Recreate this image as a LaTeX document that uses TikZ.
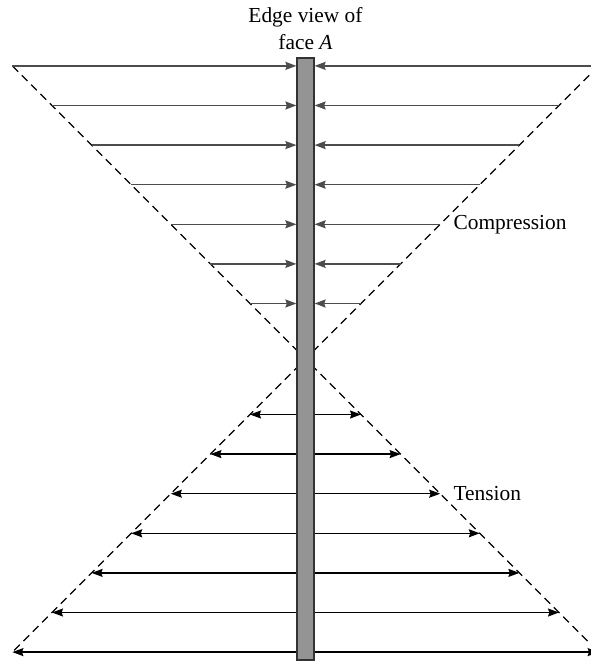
\documentclass[tikz,border=0pt]{standalone}
\usepackage{fontspec}
\setmainfont{Liberation Serif}
\usetikzlibrary{arrows.meta,positioning}
\tikzset{
  tip/.style={-{Stealth[length=5.5pt,width=4pt,inset=0.7pt]}},
  comp/.style={tip, draw=black!70, line width=0.75pt},
  tens/.style={tip, draw=black, line width=0.7pt},
  guide/.style={draw=black, line width=0.6pt, dash pattern=on 4pt off 2.6pt},
  bar/.style={draw=black!80, fill=black!42!white, line width=0.6pt, rectangle, inner sep=0pt}
}
\begin{document}
\begin{tikzpicture}[x=0.5pt,y=-0.5pt,font=\fontsize{10.7}{13.5}\selectfont]
\useasboundingbox (0,0) rectangle (590,662);

\coordinate (tl) at (12.5,66);
\coordinate (tr) at (598.5,66);
\coordinate (bl) at (12.5,652);
\coordinate (br) at (598.5,652);

\draw[guide] (tl) -- (br);
\draw[guide] (tr) -- (bl);

\node[bar, minimum width=8.5pt, minimum height=301pt] (face) at (305.5,359) {};

\node[align=center, above=0.5pt of face] (title) {Edge view of\\face \textit{A}};

\foreach \k in {0,...,6} {
  \pgfmathsetmacro{\d}{55.5+39.6*\k}
  \coordinate (cl\k) at (305.5-\d,359-\d);
  \coordinate (cr\k) at (305.5+\d,359-\d);
  \coordinate (tl\k) at (305.5-\d,359+\d);
  \coordinate (tr\k) at (305.5+\d,359+\d);
  \draw[comp] (cl\k) -- (cl\k -| face.west);
  \draw[comp] (cr\k) -- (cr\k -| face.east);
  \draw[tens] (tl\k -| face.west) -- (tl\k);
  \draw[tens] (tr\k -| face.east) -- (tr\k);
}

\node[anchor=west, inner sep=0pt, xshift=6.5pt] (complabel) at (cr2) {Compression};
\node[anchor=west, inner sep=0pt, xshift=6.5pt] (tenslabel) at (tr2) {Tension};
\end{tikzpicture}
\end{document}
